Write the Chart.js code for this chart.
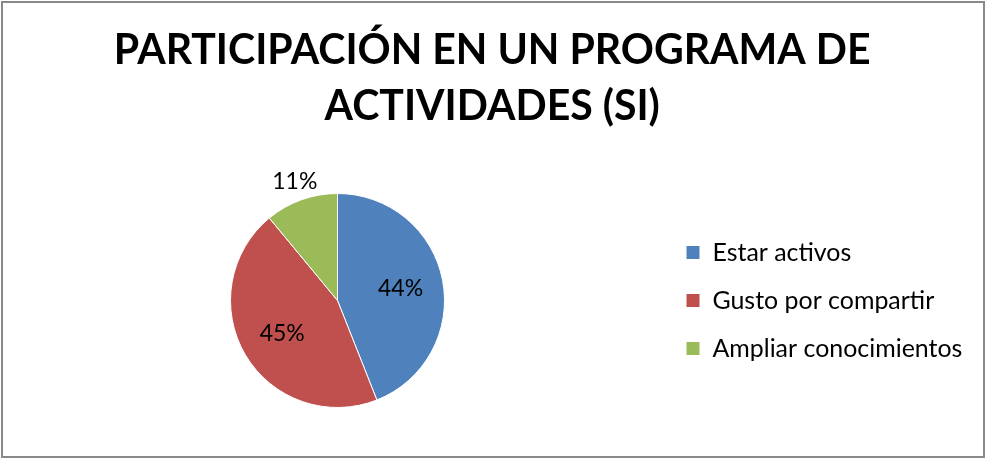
<!DOCTYPE html>
<html>
<head>
<meta charset="utf-8">
<script src="https://cdn.jsdelivr.net/npm/chart.js@4"></script>
<style>
  html, body { margin: 0; padding: 0; background: #fff; }
  #wrap { position: relative; width: 987px; height: 458px; }
</style>
</head>
<body>
<div id="wrap"><canvas id="chart" width="987" height="458"></canvas></div>
<script>
const titleLines = ['PARTICIPACIÓN EN UN PROGRAMA DE', 'ACTIVIDADES (SI)']
const categories = ['Estar activos', 'Gusto por compartir', 'Ampliar conocimientos']
const percentages = [44, 45, 11]
const sliceColors = ['#4F81BD', '#C0504D', '#9BBB59']

const FONT = 'Lato, "Open Sans", sans-serif'

// pick font sizes so the text widths come out like the original (Calibri)
const measure = document.createElement('canvas').getContext('2d')
function fitSize(text, weight, target) {
  measure.font = weight + ' 100px ' + FONT
  return 100 * target / measure.measureText(text).width
}
const titleSize = fitSize(titleLines[0], 'bold', 757)
const legendSize = fitSize(categories[2], 'normal', 250)
const labelSize = 23

const LEGEND_PAD = 48 - legendSize
const BOX = 14
measure.font = legendSize + 'px ' + FONT
const longest = Math.max(...categories.map(c => measure.measureText(c).width))
const legendWidth = LEGEND_PAD + BOX + legendSize / 2 + longest + 10
const legendLeft = 686 - LEGEND_PAD
const padRight = Math.max(0, 987 - legendLeft - legendWidth)
const padLeft = 2 * 337.5 - legendLeft

// frame round the whole chart
const framePlugin = {
  id: 'frame',
  afterDraw(chart) {
    const ctx = chart.ctx
    ctx.save()
    ctx.strokeStyle = '#898989'
    ctx.lineWidth = 2
    ctx.strokeRect(2, 2, chart.width - 5, chart.height - 3)
    ctx.restore()
  },
}

// percentage labels: inside the big slices, outside the small one
const sliceLabels = {
  id: 'sliceLabels',
  afterDatasetsDraw(chart) {
    const ctx = chart.ctx
    const meta = chart.getDatasetMeta(0)
    ctx.save()
    ctx.font = labelSize + 'px ' + FONT
    ctx.fillStyle = '#000'
    ctx.textAlign = 'center'
    ctx.textBaseline = 'middle'
    meta.data.forEach((arc, i) => {
      const { x, y, startAngle, endAngle, outerRadius } = arc.getProps(
        ['x', 'y', 'startAngle', 'endAngle', 'outerRadius'], true)
      const mid = (startAngle + endAngle) / 2
      const r = percentages[i] < 20 ? outerRadius + 19 : outerRadius * 0.6
      ctx.fillText(percentages[i] + '%', x + Math.cos(mid) * r, y + Math.sin(mid) * r)
    })
    ctx.restore()
  },
}

new Chart(document.getElementById('chart'), {
  type: 'pie',
  data: {
    labels: categories,
    datasets: [{
      data: percentages,
      backgroundColor: sliceColors,
      borderColor: '#ffffff',
      borderWidth: 1,
    }],
  },
  options: {
    responsive: false,
    animation: false,
    layout: {
      padding: { top: 10, bottom: 50, left: padLeft, right: padRight },
    },
    plugins: {
      title: {
        display: true,
        text: titleLines,
        color: '#000',
        font: { family: FONT, size: titleSize, weight: 'bold', lineHeight: 56 / titleSize },
        padding: { top: 13, bottom: 58 },
      },
      legend: {
        position: 'right',
        fullSize: false,
        labels: {
          color: '#000',
          font: { family: FONT, size: legendSize },
          boxWidth: BOX,
          boxHeight: BOX,
          padding: LEGEND_PAD,
        },
      },
      tooltip: { enabled: false },
    },
  },
  plugins: [framePlugin, sliceLabels],
})
</script>
</body>
</html>
